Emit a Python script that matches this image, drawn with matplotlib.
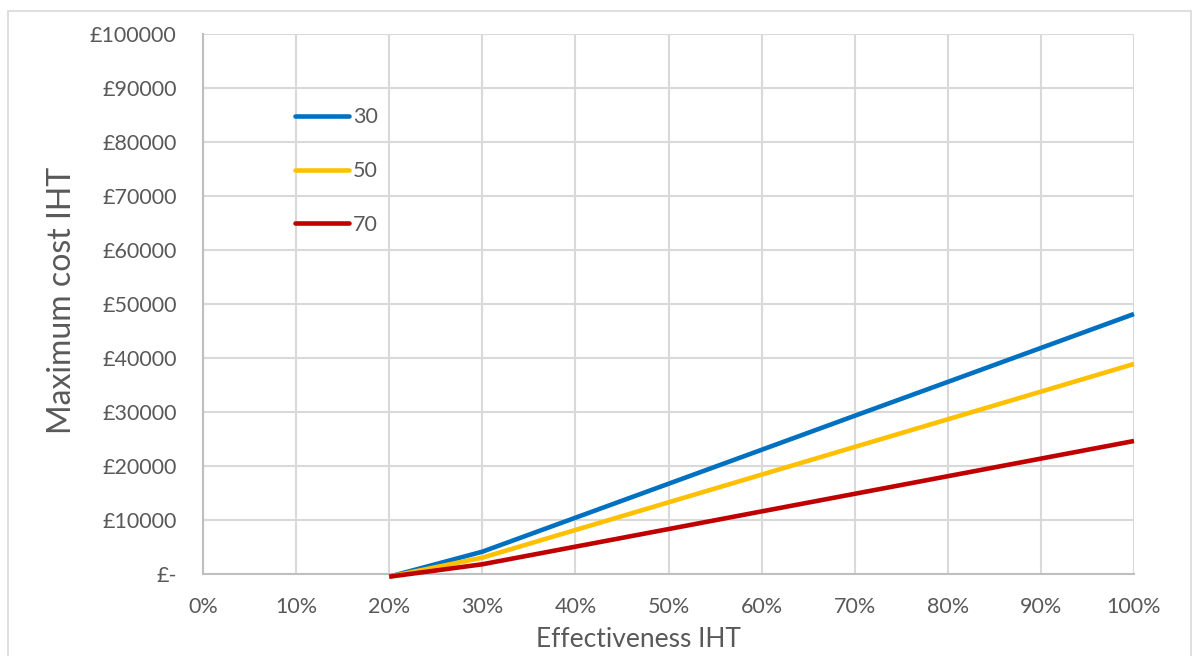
import matplotlib
matplotlib.use('Agg')
import matplotlib.pyplot as plt
from matplotlib.ticker import FuncFormatter, PercentFormatter
from matplotlib.patches import Rectangle

# effectiveness (fraction) and maximum cost per series
effectiveness = [0.2, 0.3, 0.4, 0.5, 0.6, 0.7, 0.8, 0.9, 1.0]
cost_30 = [-500, 4130, 10420, 16710, 23000, 29300, 35570, 41860, 48150]
cost_50 = [-500, 3020, 8150, 13270, 18400, 23530, 28650, 33770, 38900]
cost_70 = [-500, 1800, 5060, 8320, 11590, 14850, 18110, 21370, 24630]
series_names = ['30', '50', '70']
series_colors = ['#0070C0', '#FFC000', '#C00000']

plt.rcParams['font.family'] = ['Lato', 'DejaVu Sans']
txt = '#595959'
grid = '#D9D9D9'

fig = plt.figure(figsize=(12, 6.56), dpi=100)
ax = fig.add_axes([203 / 1200, 1 - 574 / 656, 931 / 1200, 540 / 656])

for vals, name, col in zip([cost_30, cost_50, cost_70], series_names, series_colors):
    ax.plot(effectiveness, vals, color=col, lw=3.3, label=name,
            solid_capstyle='butt', solid_joinstyle='round', clip_on=False, zorder=3)

ax.set_xlim(0, 1)
ax.set_ylim(0, 100000)
ax.set_xticks([i / 10 for i in range(11)])
ax.set_yticks(range(0, 100001, 10000))
ax.xaxis.set_major_formatter(PercentFormatter(1.0, decimals=0))
ax.yaxis.set_major_formatter(FuncFormatter(lambda v, p: '£-' if v == 0 else '£%d' % v))
ax.tick_params(length=0, labelsize=15.5, colors=txt)
ax.tick_params(axis='y', pad=19)
ax.tick_params(axis='x', pad=16.5)
ax.grid(True, color=grid, lw=1.5)
ax.set_axisbelow(True)
for s in ['top', 'right']:
    ax.spines[s].set_visible(False)
for s in ['left', 'bottom']:
    ax.spines[s].set_color('#BFBFBF')
    ax.spines[s].set_linewidth(1.5)

ax.set_xlabel('Effectiveness IHT', fontsize=19, color=txt)
ax.xaxis.label.set_va('center')
ax.xaxis.set_label_coords(0.468, -0.122)
ax.set_ylabel('Maximum cost IHT', fontsize=23, color=txt)
ax.yaxis.label.set_va('center')
ax.yaxis.set_label_coords(-0.151, 0.506)

leg = ax.legend(loc='center left', bbox_to_anchor=(0.0988, 0.746), frameon=False,
                fontsize=15.5, handlelength=2.5, handletextpad=0.2,
                labelspacing=1.57, borderpad=0, borderaxespad=0)
for t in leg.get_texts():
    t.set_color(txt)
for h in leg.get_lines():
    h.set_solid_capstyle('round')

fig.add_artist(Rectangle((8 / 1200, -0.1), 1183 / 1200, 1 - 11 / 656 + 0.1,
                         transform=fig.transFigure, fill=False, ec=grid, lw=1.2))

fig.savefig('out.png', dpi=100)
